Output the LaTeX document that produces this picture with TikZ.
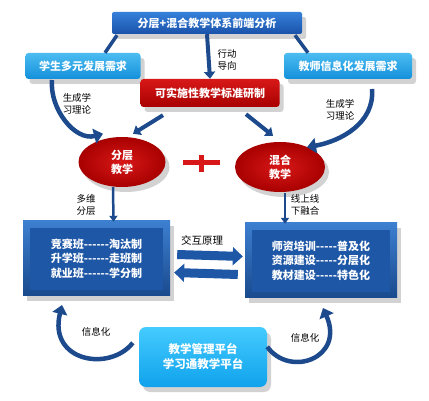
\documentclass[tikz,border=0pt]{standalone}
\usepackage{fontspec}
\setmainfont{Noto Sans CJK SC}
\usetikzlibrary{arrows.meta,shadows,shapes.geometric}
\definecolor{topblueA}{HTML}{3580DA}
\definecolor{topblueB}{HTML}{1A52AA}
\definecolor{ltblueA}{HTML}{4CBCF2}
\definecolor{ltblueB}{HTML}{1390DA}
\definecolor{redA}{HTML}{D81818}
\definecolor{redB}{HTML}{A80000}
\definecolor{arrblue}{HTML}{1C4A8C}
\definecolor{bigblue}{HTML}{1E57A6}
\definecolor{bigedge}{HTML}{3D7FD0}
\definecolor{cyanA}{HTML}{45CBFF}
\definecolor{cyanB}{HTML}{0FA2EC}
\newcommand\sixd{-{}-{}-{}-{}-{}-}
\newcommand\fived{-{}-{}-{}-{}-}
\tikzset{
  shad/.style={drop shadow={opacity=0.35,shadow xshift=4pt,shadow yshift=-5pt,fill=gray}},
  boxtxt/.style={text=white,font=\bfseries\fontsize{11}{14}\selectfont,align=center,inner sep=0pt},
  topbox/.style={boxtxt,shad,top color=topblueA,bottom color=topblueB,rounded corners=2pt,minimum width=190pt,minimum height=22pt},
  ltbox/.style={boxtxt,shad,top color=ltblueA,bottom color=ltblueB,rounded corners=3pt,minimum width=115pt,minimum height=26pt},
  redbox/.style={boxtxt,shad,top color=redA,bottom color=redB,rounded corners=3pt,minimum width=139pt,minimum height=28pt},
  redell/.style={boxtxt,shad,ellipse,inner color=redA,outer color=redB,inner sep=0pt},
  bigbox/.style={boxtxt,shad,top color=bigedge,bottom color=bigblue!85!black,minimum width=147pt,minimum height=75pt},
  cybox/.style={boxtxt,shad,top color=cyanA,bottom color=cyanB,rounded corners=7pt,minimum width=128pt,minimum height=60pt,font=\bfseries\fontsize{11.5}{15}\selectfont},
  lbl/.style={font=\fontsize{9.5}{12.5}\selectfont,align=center,text=black,inner sep=0pt},
  conn/.style={draw=arrblue,line width=3.5pt},
  arr/.style={draw=arrblue,line width=4pt,-{Triangle[length=7pt,width=11pt]}},
  thinarr/.style={draw=arrblue,line width=2.5pt,-{Triangle[length=6pt,width=8pt]}},
  curvearr/.style={draw=arrblue,line width=4.5pt,-{Triangle[length=9pt,width=15pt]}},
  fatarr/.style={draw=bigblue,line width=9pt,-{Triangle[length=10pt,width=18pt]}},
}
\begin{document}
\begin{tikzpicture}[x=1pt,y=-1pt]
\useasboundingbox (0,0) rectangle (429,401);
\fill[white] (0,0) rectangle (429,401);

% top row
\node[topbox] (top) at (207,23) {分层+混合教学体系前端分析};
\node[ltbox] (stu) at (83,66) {学生多元发展需求};
\node[ltbox,minimum width=128pt] (tea) at (348,66) {教师信息化发展需求};
\node[redbox] (std) at (210,93) {可实施性教学标准研制};

\draw[conn] ([xshift=-90pt,yshift=-1pt]top.south) -- ([xshift=22pt]stu.north);
\draw[conn] ([xshift=88pt,yshift=-1pt]top.south) -- ([xshift=-40pt]tea.north);
\draw[arr] (top.south) -- (std.north);
\node[lbl] (l1) at (227,60) {行动\\导向};

% ellipses
\node[redell,minimum width=87pt,minimum height=50pt] (fc) at (122,162) {分层\\教学};
\node[redell,minimum width=90pt,minimum height=50pt] (hh) at (280,167) {混合\\教学};
\fill[redA] (183,160.5) rectangle (220,165.5);
\fill[redA] (199,155) rectangle (204,172);

\draw[arr] ([xshift=-47pt,yshift=-8pt]std.south) -- ([xshift=11pt,yshift=3pt]fc.north);
\draw[arr] ([xshift=36pt,yshift=-7pt]std.south) -- ([xshift=-7pt,yshift=6pt]hh.north);

\coordinate (c1) at (52,80);
\draw[curvearr] (c1) to[out=-95,in=195] ([shift={(-19pt,3pt)}]fc.north);
\node[lbl] (l2) at (77,104) {生成学\\习理论};
\coordinate (c2) at (372,89);
\draw[curvearr] (c2) to[out=-85,in=10] ([shift={(-5pt,2pt)}]hh.north east);
\node[lbl] (l3) at (340,110) {生成学\\习理论};

% big boxes
\node[bigbox] (L) at (96.5,258.5) {};
\fill[bigblue] ([shift={(7pt,-7pt)}]L.north west) rectangle ([shift={(-7pt,6pt)}]L.south east);
\node[boxtxt,font=\bfseries\fontsize{11}{14.5}\selectfont] (Lt) at (L) {竞赛班\sixd 淘汰制\\升学班\sixd 走班制\\就业班\sixd 学分制};
\node[bigbox,minimum width=152pt] (R) at (321,260.5) {};
\fill[bigblue] ([shift={(7pt,-7pt)}]R.north west) rectangle ([shift={(-7pt,6pt)}]R.south east);
\node[boxtxt,font=\bfseries\fontsize{11}{14.5}\selectfont] (Rt) at (R) {师资培训\fived 普及化\\资源建设\fived 分层化\\教材建设\fived 特色化};

\draw[thinarr] ([xshift=-9pt]fc.south) -- ([xshift=17pt,yshift=-1pt]L.north);
\node[lbl] (l4) at (86,205) {多维\\分层};
\draw[thinarr] ([xshift=5pt,yshift=-1pt]hh.south) -- ([xshift=-36pt,yshift=-1pt]R.north);
\node[lbl] (l5) at (305,205) {线上线\\下融合};

\draw[fatarr] ([shift={(7pt,4pt)}]L.east) -- ([shift={(-2pt,4pt)}]R.west);
\draw[fatarr] ([shift={(-7pt,-14pt)}]R.west) -- ([shift={(4pt,-14pt)}]L.east);
\node[lbl,font=\fontsize{10.5}{13}\selectfont] (l6) at (202,240) {交互原理};

% bottom
\node[cybox] (plat) at (203,357) {教学管理平台\\学习通教学平台};
\coordinate (c3) at (62,305);
\draw[curvearr] ([shift={(-6pt,-16pt)}]plat.north west) .. controls (110,372) and (48,362) .. (c3);
\node[lbl] (l7) at (96,332) {信息化};
\coordinate (c4) at (323,308);
\draw[curvearr] ([shift={(0pt,-20pt)}]plat.north east) .. controls (290,378) and (345,358) .. (c4);
\node[lbl] (l8) at (305,338) {信息化};
\end{tikzpicture}
\end{document}
